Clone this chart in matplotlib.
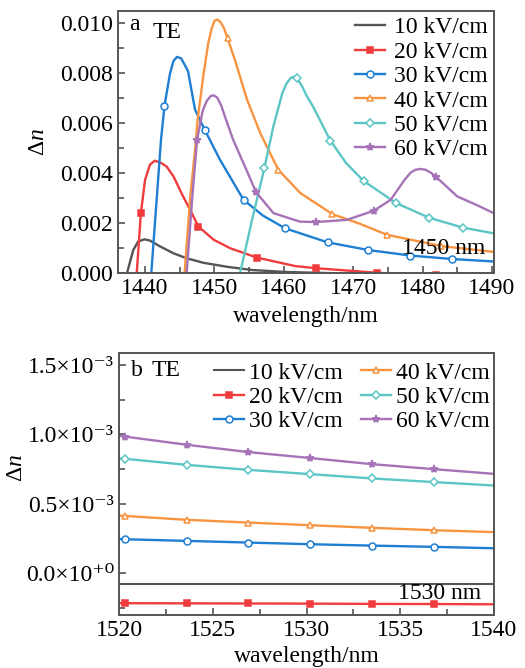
import matplotlib
matplotlib.use("Agg")
import matplotlib.pyplot as plt
from matplotlib.ticker import MultipleLocator, FixedLocator, FixedFormatter

plt.rcParams['font.family'] = ['Liberation Serif', 'DejaVu Serif']
plt.rcParams['mathtext.fontset'] = 'custom'
plt.rcParams['mathtext.rm'] = 'Liberation Serif'
plt.rcParams['mathtext.it'] = 'Liberation Serif:italic'

labels = ['10 kV/cm', '20 kV/cm', '30 kV/cm', '40 kV/cm', '50 kV/cm', '60 kV/cm']
colors = ['#555555', '#f03c3c', '#1f7fd2', '#f89440', '#5cc6c6', '#a673b8']
markers = [None, 's', 'o', '^', 'D', '*']

# ---- panel a data (wavelength nm, delta n) ----
a10_x = [1437.4, 1438.3, 1439.0, 1439.9, 1440.7, 1442.2, 1444.1, 1446.0, 1448.4, 1451.8, 1455.4, 1460.3, 1466.0, 1470.0]
a10_y = [0.0, 0.00092, 0.00126, 0.00135, 0.0013, 0.00106, 0.00079, 0.00059, 0.00041, 0.00025, 0.00012, 0.00004, 0.0, -0.00005]
a10_m = []

a20_x = [1438.8, 1439.4, 1440.0, 1440.7, 1441.4, 1442.2, 1443.1, 1444.1, 1445.5, 1446.5, 1447.7, 1449.9, 1452.3, 1456.1, 1461.6, 1464.7, 1473.4, 1482.0, 1491.0]
a20_y = [0.0, 0.0024, 0.00373, 0.00434, 0.0045, 0.00443, 0.00427, 0.00387, 0.00306, 0.00253, 0.00186, 0.00133, 0.00099, 0.00062, 0.00028, 0.00019, 0.00001, -0.0001, -0.00015]
a20_m = [1439.4, 1447.7, 1456.1, 1464.7, 1473.4, 1482.0]

a30_x = [1440.9, 1442.3, 1442.8, 1443.6, 1444.1, 1444.6, 1445.2, 1445.8, 1446.2, 1447.2, 1448.6, 1450.8, 1454.2, 1457.0, 1460.2, 1466.3, 1472.2, 1478.2, 1484.3, 1491.0]
a30_y = [0.0, 0.00534, 0.0067, 0.0080, 0.0085, 0.00866, 0.0086, 0.0083, 0.00808, 0.00655, 0.00574, 0.00454, 0.00293, 0.0023, 0.00179, 0.00123, 0.00092, 0.00070, 0.00056, 0.00045]
a30_m = [1442.8, 1448.6, 1454.2, 1460.2, 1466.3, 1472.2, 1478.2, 1484.3]

a40_x = [1445.7, 1446.5, 1447.3, 1447.6, 1448.4, 1449.1, 1449.6, 1450.0, 1450.4, 1450.9, 1451.4, 1451.9, 1453.0, 1454.7, 1456.6, 1459.2, 1462.4, 1467.0, 1471.0, 1474.9, 1482.7, 1491.0]
a40_y = [0.0, 0.0030, 0.0052, 0.0062, 0.0079, 0.0092, 0.0098, 0.0101, 0.01016, 0.01005, 0.0098, 0.0094, 0.0085, 0.00695, 0.00561, 0.00414, 0.0032, 0.00236, 0.00197, 0.00153, 0.00108, 0.00082]
a40_m = [1451.9, 1459.2, 1467.0, 1474.9, 1482.7]

a50_x = [1453.7, 1455.4, 1457.2, 1458.5, 1459.8, 1460.4, 1461.0, 1461.5, 1461.9, 1462.6, 1463.3, 1464.2, 1466.7, 1469.0, 1471.5, 1476.2, 1481.0, 1485.8, 1491.0]
a50_y = [0.0, 0.0021, 0.0042, 0.00588, 0.00722, 0.0076, 0.00782, 0.00787, 0.0078, 0.0075, 0.0071, 0.00668, 0.00531, 0.0044, 0.00369, 0.0028, 0.00221, 0.00182, 0.00155]
a50_m = [1457.2, 1461.9, 1466.7, 1471.5, 1476.2, 1481.0, 1485.8]

a60_x = [1446.0, 1446.8, 1447.5, 1448.3, 1448.9, 1449.5, 1449.9, 1450.4, 1451.0, 1451.6, 1452.7, 1454.5, 1456.0, 1458.5, 1462.3, 1464.6, 1469.1, 1473.0, 1475.4, 1477.4, 1478.3, 1479.0, 1479.7, 1480.4, 1481.2, 1482.0, 1485.0, 1488.0, 1491.0]
a60_y = [0.0, 0.0030, 0.00534, 0.0065, 0.0069, 0.0071, 0.00712, 0.00703, 0.0067, 0.0062, 0.00534, 0.0042, 0.00324, 0.0024, 0.00206, 0.00204, 0.00213, 0.0025, 0.00293, 0.00373, 0.00403, 0.00414, 0.00417, 0.00414, 0.00402, 0.00384, 0.00307, 0.0027, 0.0023]
a60_m = [1447.5, 1456.0, 1464.6, 1473.0, 1482.0]

# ---- panel b data ----
b_x = [1520.0, 1520.3, 1523.6, 1526.9, 1530.2, 1533.5, 1536.8, 1540.0]
b_m = [1520.3, 1523.6, 1526.9, 1530.2, 1533.5, 1536.8]
b10_y = [-0.078e-3] * 8
b20_y = [-0.216e-3, -0.216e-3, -0.217e-3, -0.218e-3, -0.219e-3, -0.221e-3, -0.222e-3, -0.224e-3]
b30_y = [0.247e-3, 0.245e-3, 0.233e-3, 0.221e-3, 0.209e-3, 0.199e-3, 0.190e-3, 0.180e-3]
b40_y = [0.415e-3, 0.413e-3, 0.385e-3, 0.365e-3, 0.346e-3, 0.327e-3, 0.310e-3, 0.296e-3]
b50_y = [0.828e-3, 0.825e-3, 0.781e-3, 0.745e-3, 0.714e-3, 0.683e-3, 0.657e-3, 0.632e-3]
b60_y = [0.990e-3, 0.985e-3, 0.926e-3, 0.873e-3, 0.830e-3, 0.786e-3, 0.750e-3, 0.716e-3]
b_yticks = [0.0, 0.5e-3, 1.0e-3, 1.5e-3]
b_yticklabels = ['0.0×10\u207a\u2070', '0.5×10\u207b\u00b3', '1.0×10\u207b\u00b3', '1.5×10\u207b\u00b3']

FS = 17
W, H = 525, 668
fig = plt.figure(figsize=(W / 100, H / 100), dpi=100)
axa = fig.add_axes([118 / W, 1 - 273 / H, 376 / W, 262 / H])
axb = fig.add_axes([119 / W, 1 - 615 / H, 375 / W, 262 / H])

spine_c = '#555555'


def style(ax):
    for s in ax.spines.values():
        s.set_color(spine_c)
        s.set_linewidth(1.4)
    ax.tick_params(which='both', direction='in', color=spine_c, labelsize=FS,
                   top=False, right=False, width=1.2)
    ax.tick_params(which='major', length=5)
    ax.tick_params(which='minor', length=4)


def mstyle(i):
    m = markers[i]
    if m is None:
        return {}
    d = dict(marker=m, markeredgecolor=colors[i], markeredgewidth=1.1)
    if m in ('o', '^', 'D'):
        d['markerfacecolor'] = 'white'
        d['markersize'] = 5 if m != 'D' else 4.5
    elif m == 's':
        d['markerfacecolor'] = colors[i]
        d['markersize'] = 4
    else:
        d['markerfacecolor'] = colors[i]
        d['markersize'] = 6
    return d


a_series = [(a10_x, a10_y, a10_m), (a20_x, a20_y, a20_m), (a30_x, a30_y, a30_m),
            (a40_x, a40_y, a40_m), (a50_x, a50_y, a50_m), (a60_x, a60_y, a60_m)]
for i, (xs, ys, ms) in enumerate(a_series):
    idx = [xs.index(v) for v in ms]
    kw = mstyle(i)
    if idx:
        kw['markevery'] = idx
    axa.plot(xs, ys, color=colors[i], lw=1.7, label=labels[i],
             solid_joinstyle='round', **kw)

axa.set_xlim(1436.1, 1490.3)
axa.set_ylim(0, 0.0105)
axa.xaxis.set_major_locator(MultipleLocator(10))
axa.xaxis.set_minor_locator(MultipleLocator(5))
axa.yaxis.set_major_locator(MultipleLocator(0.002))
axa.yaxis.set_minor_locator(MultipleLocator(0.001))
axa.yaxis.set_major_formatter(matplotlib.ticker.FormatStrFormatter('%.3f'))
style(axa)
axa.set_xlabel('wavelength/nm', fontsize=FS, labelpad=5)
axa.set_ylabel(r'$\Delta n$', fontsize=FS, labelpad=8)
axa.text(0.043, 0.95, 'a', transform=axa.transAxes, fontsize=FS, ha='center', va='center')
axa.text(0.129, 0.917, 'TE', transform=axa.transAxes, fontsize=FS, ha='center', va='center')
axa.text(0.867, 0.095, '1450 nm', transform=axa.transAxes, fontsize=FS, ha='center', va='center')
axa.legend(loc='upper right', frameon=False, fontsize=FS, handlelength=1.25,
           handletextpad=0.4, labelspacing=0.12, borderaxespad=0.15, borderpad=0.1)

b_series = [b10_y, b20_y, b30_y, b40_y, b50_y, b60_y]
for i, ys in enumerate(b_series):
    kw = mstyle(i)
    if markers[i] is not None:
        kw['markevery'] = [b_x.index(v) for v in b_m]
    axb.plot(b_x, ys, color=colors[i], lw=1.7 if i else 1.5, label=labels[i], **kw)

axb.set_xlim(1520, 1540)
axb.set_ylim(-0.301e-3, 1.587e-3)
axb.xaxis.set_major_locator(MultipleLocator(5))
axb.xaxis.set_minor_locator(MultipleLocator(2.5))
axb.yaxis.set_major_locator(FixedLocator(b_yticks))
axb.yaxis.set_major_formatter(FixedFormatter(b_yticklabels))
axb.yaxis.set_minor_locator(FixedLocator([-0.25e-3, 0.25e-3, 0.75e-3, 1.25e-3]))
style(axb)
axb.set_xlabel('wavelength/nm', fontsize=FS, labelpad=4)
axb.set_ylabel(r'$\Delta n$', fontsize=FS)
axb.yaxis.set_label_coords(-0.245, 0.561)
axb.text(0.048, 0.935, 'b', transform=axb.transAxes, fontsize=FS, ha='center', va='center')
axb.text(0.126, 0.935, 'TE', transform=axb.transAxes, fontsize=FS, ha='center', va='center')
axb.text(0.856, 0.083, '1530 nm', transform=axb.transAxes, fontsize=FS, ha='center', va='center')
axb.legend(loc='upper right', bbox_to_anchor=(1.0, 0.983), ncol=2, frameon=False,
           fontsize=FS, handlelength=1.25, handletextpad=0.2, labelspacing=0.12,
           borderaxespad=0.1, borderpad=0.1, columnspacing=0.8)

fig.savefig('out.png', dpi=100)
